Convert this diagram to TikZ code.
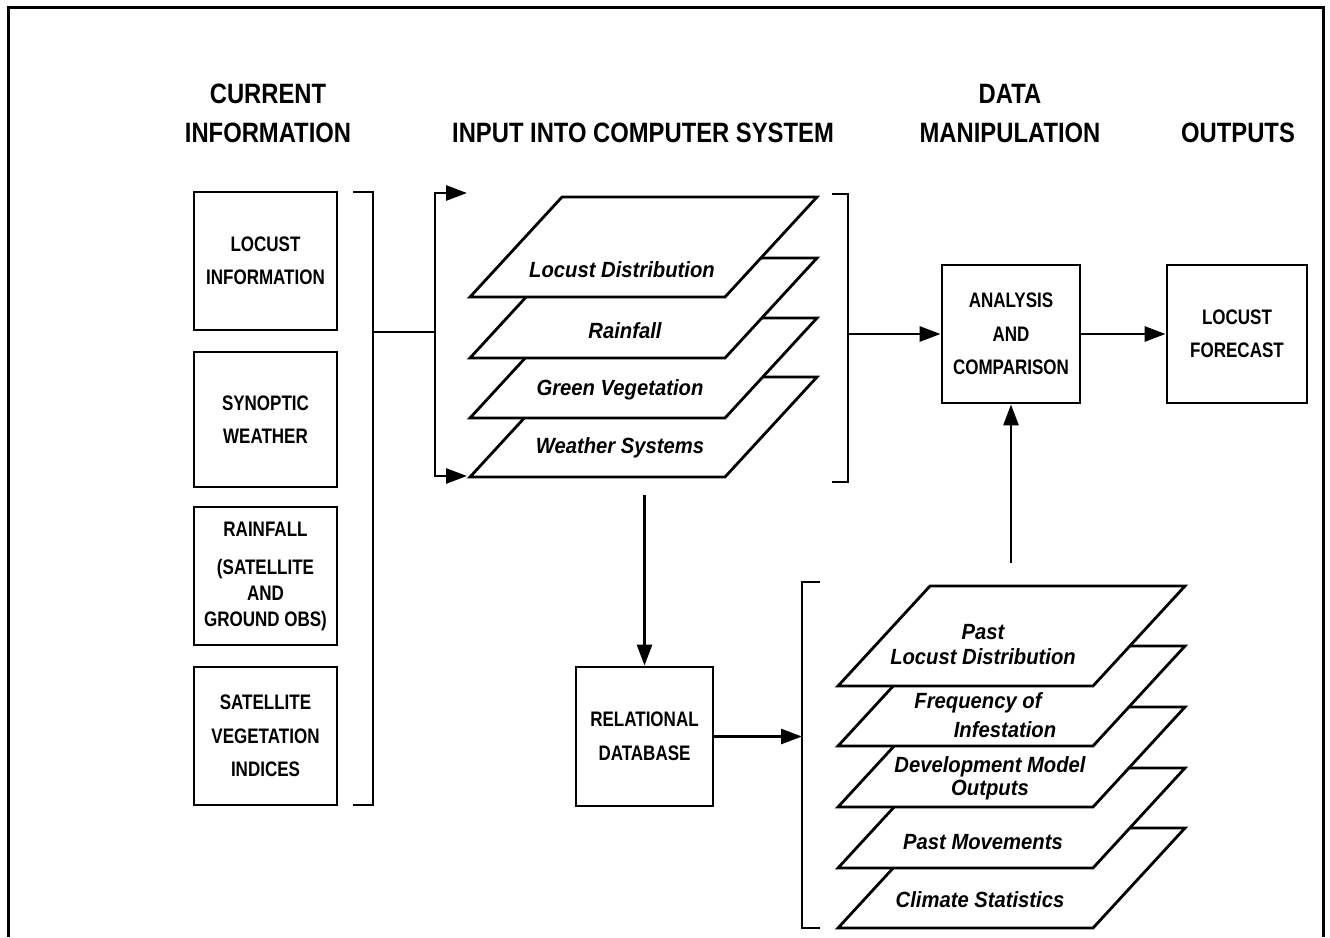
\documentclass[tikz,border=0pt]{standalone}
\usepackage{fontspec}
\setmainfont{Liberation Sans}
\newfontfamily\cond{Liberation Sans}[FakeStretch=0.85]
\newfontfamily\condb{Liberation Sans}[FakeStretch=0.81]
\newfontfamily\ital{Liberation Sans}[FakeStretch=0.92]
\usetikzlibrary{arrows.meta}
\tikzset{
 ln/.style={line width=2.8pt},
 arr/.style={ln, -{Triangle[length=21pt,width=15pt]}},
 box/.style={draw, line width=2.8pt, inner sep=0pt, align=center, font=\condb\bfseries\fontsize{21}{33.5}\selectfont},
 head/.style={align=center, font=\cond\bfseries\fontsize{28}{39}\selectfont},
 lay/.style={draw, fill=white, line width=2.8pt, line join=miter},
 laytext/.style={align=center, inner sep=0pt, font=\ital\bfseries\itshape\fontsize{22}{25}\selectfont},
}
\newcommand\layer[2]{\draw[lay] (#1,#2) -- ++(255,0) -- ++(92,-100) -- ++(-255,0) -- cycle;}
\begin{document}
\begin{tikzpicture}[x=1pt,y=-1pt]
\useasboundingbox (0,0) rectangle (1330,937);
% frame
\draw[line width=3pt] (8,937) -- (8,7) -- (1323,7) -- (1323,937);
% headings
\node[head] (h1) at (268,113.5) {CURRENT\\INFORMATION};
\node[head] (h2) at (643,133) {INPUT INTO COMPUTER SYSTEM};
\node[head] (h3) at (1010,113.5) {DATA\\MANIPULATION};
\node[head] (h4) at (1238,133) {OUTPUTS};
% left boxes
\node[box, minimum width=143pt, minimum height=138pt] (li) at (265.5,261) {LOCUST\\INFORMATION};
\node[box, minimum width=143pt, minimum height=135pt] (sw) at (265.5,419.5) {SYNOPTIC\\WEATHER};
\node[box, minimum width=143pt, minimum height=138pt, font=\condb\bfseries\fontsize{21}{26}\selectfont] (rf) at (265.5,576) {RAINFALL\\[12pt](SATELLITE\\AND\\GROUND OBS)};
\node[box, minimum width=143pt, minimum height=138pt] (sv) at (265.5,736) {SATELLITE\\VEGETATION\\INDICES};
% left bracket and split
\draw[ln] (353,192) -- (373,192) -- (373,805) -- (353,805);
\coordinate (lb) at (373,332);
\coordinate (sp) at (435,332);
\coordinate (ta) at (467,193);
\coordinate (tb) at (467,476);
\draw[ln] (lb) -- (sp);
\draw[arr] (sp) |- (ta);
\draw[arr] (sp) |- (tb);
% top stack
\layer{470}{477}
\node[laytext] (t4) at (620,448) {Weather Systems};
\layer{470}{418}
\node[laytext] (t3) at (620,390) {Green Vegetation};
\layer{470}{358}
\node[laytext] (t2) at (625,331) {Rainfall};
\layer{470}{297}
\node[laytext] (t1) at (622,270) {Locust Distribution};
% right bracket of top stack
\draw[ln] (832,194) -- (848,194) -- (848,482) -- (832,482);
\coordinate (rb) at (848,334);
% analysis and forecast
\node[box, minimum width=138pt, minimum height=138pt] (an) at (1011,334) {ANALYSIS\\AND\\COMPARISON};
\node[box, minimum width=140pt, minimum height=138pt] (fc) at (1237,334) {LOCUST\\FORECAST};
\draw[arr] (rb) -- (an.west);
\draw[arr] (an.east) -- (fc.west);
\coordinate (upc) at (1011,563);
\draw[arr] (upc) -- (an.south);
% relational database
\node[box, minimum width=137pt, minimum height=139pt] (rd) at (644.5,736.5) {RELATIONAL\\DATABASE};
\coordinate (dnc) at (644.5,495);
\draw[arr] (dnc) -- (rd.north);
\coordinate (bb) at (802,736.5);
\draw[arr] (rd.east) -- (bb);
% bottom bracket
\draw[ln] (820,582) -- (802,582) -- (802,928) -- (820,928);
% bottom stack
\layer{838}{928}
\node[laytext] (b5) at (980,900) {Climate Statistics};
\layer{838}{868}
\node[laytext] (b4) at (983,842) {Past Movements};
\layer{838}{807}
\node[laytext, font=\ital\bfseries\itshape\fontsize{22}{23}\selectfont] (b3) at (990,778) {Development Model\\Outputs};
\layer{838}{746}
\node[laytext] (b2a) at (978,703) {Frequency of};
\node[laytext] (b2b) at (1005,730) {Infestation};
\layer{838}{686}
\node[laytext] (b1) at (983,645) {Past\\Locust Distribution};
\end{tikzpicture}
\end{document}
